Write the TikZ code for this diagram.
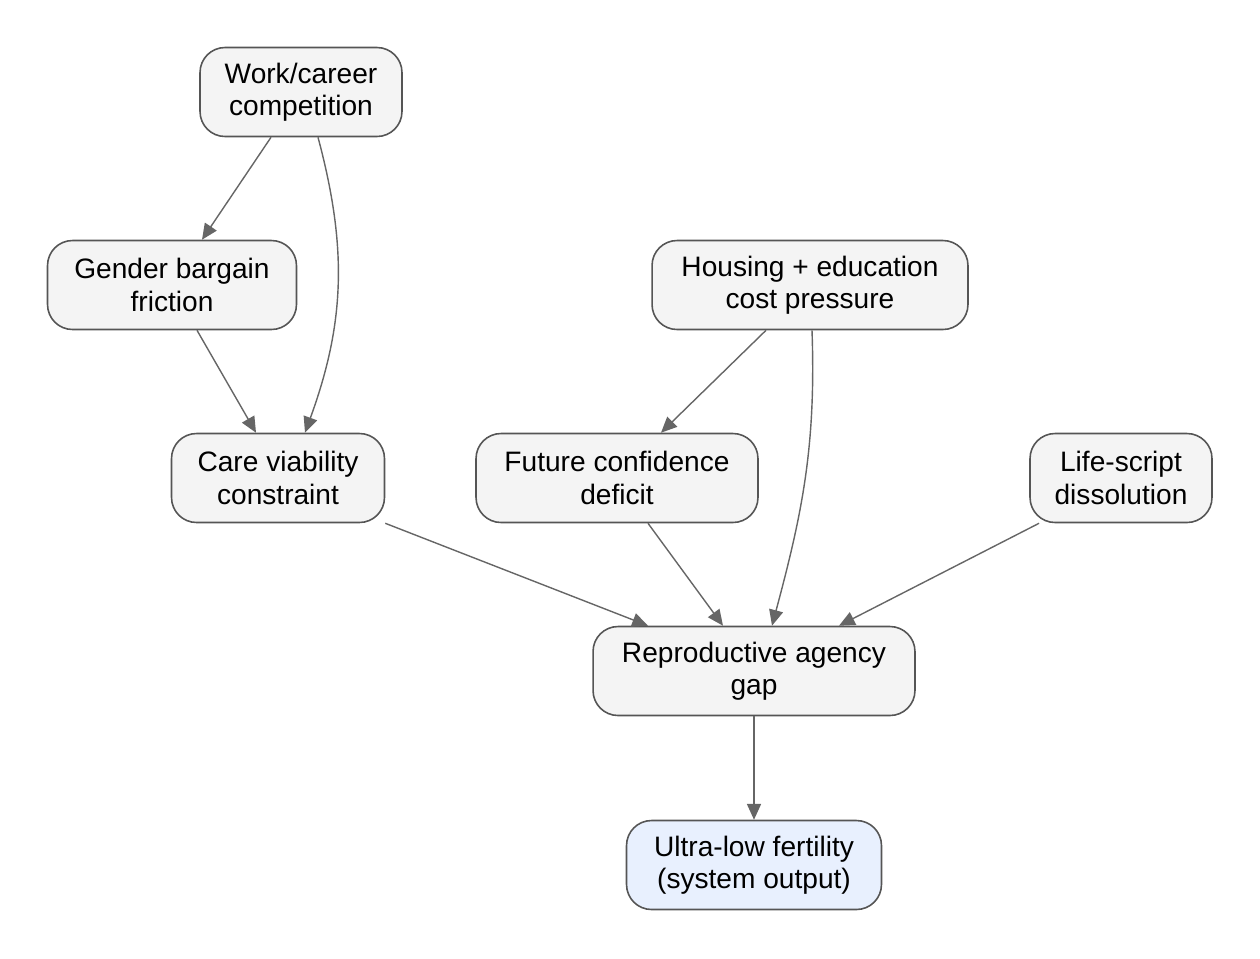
\documentclass[tikz,border=0pt]{standalone}
\usepackage{fontspec}
\setmainfont{Liberation Sans}
\usetikzlibrary{arrows.meta}
\definecolor{boxfill}{HTML}{F4F4F4}
\definecolor{boxline}{HTML}{555555}
\definecolor{outfill}{HTML}{E8F0FE}
\definecolor{edgecol}{HTML}{666666}
\begin{document}
\begin{tikzpicture}[x=0.02cm,y=-0.02cm,
    factor/.style={draw=boxline,fill=boxfill,line width=0.9pt,rounded corners=0.5cm,
      minimum height=1.78cm,align=center,inner sep=0pt,font=\fontsize{16}{18.5}\selectfont},
    output/.style={factor,fill=outfill},
    link/.style={draw=edgecol,line width=0.8pt,-{Triangle[length=9pt,width=8pt]}},
  ]
    \useasboundingbox (0,0) rectangle (1260,958);
    % factors
    \node[factor,minimum width=4.04cm] (work) at (301,92) {Work/career\\competition};
    \node[factor,minimum width=4.98cm] (gender) at (172,285) {Gender bargain\\friction};
    \node[factor,minimum width=6.32cm] (housing) at (810,285) {Housing + education\\cost pressure};
    \node[factor,minimum width=4.26cm] (care) at (278,478) {Care viability\\constraint};
    \node[factor,minimum width=5.64cm] (future) at (617,478) {Future confidence\\deficit};
    \node[factor,minimum width=3.64cm] (life) at (1121,478) {Life-script\\dissolution};
    \node[factor,minimum width=6.44cm] (repro) at (754,671) {Reproductive agency\\gap};
    \node[output,minimum width=5.10cm] (ultra) at (754,865) {Ultra-low fertility\\(system output)};
    % links
    \draw[link] ([xshift=-0.6cm]work.south) -- ([xshift=0.6cm]gender.north);
    \draw[link] ([xshift=0.34cm]work.south) to[out=-75,in=70] ([xshift=0.54cm]care.north);
    \draw[link] ([xshift=0.5cm]gender.south) -- ([xshift=-0.44cm]care.north);
    \draw[link] ([xshift=-0.88cm]housing.south) -- ([xshift=0.88cm]future.north);
    \draw[link] ([xshift=0.04cm]housing.south) to[out=-88,in=75] ([xshift=0.36cm]repro.north);
    \draw[link] (care.south east) -- ([xshift=-2.12cm]repro.north);
    \draw[link] ([xshift=0.62cm]future.south) -- ([xshift=-0.62cm]repro.north);
    \draw[link] ([xshift=-1.64cm]life.south) -- ([xshift=1.7cm]repro.north);
    \draw[link] (repro) -- (ultra);
\end{tikzpicture}
\end{document}
